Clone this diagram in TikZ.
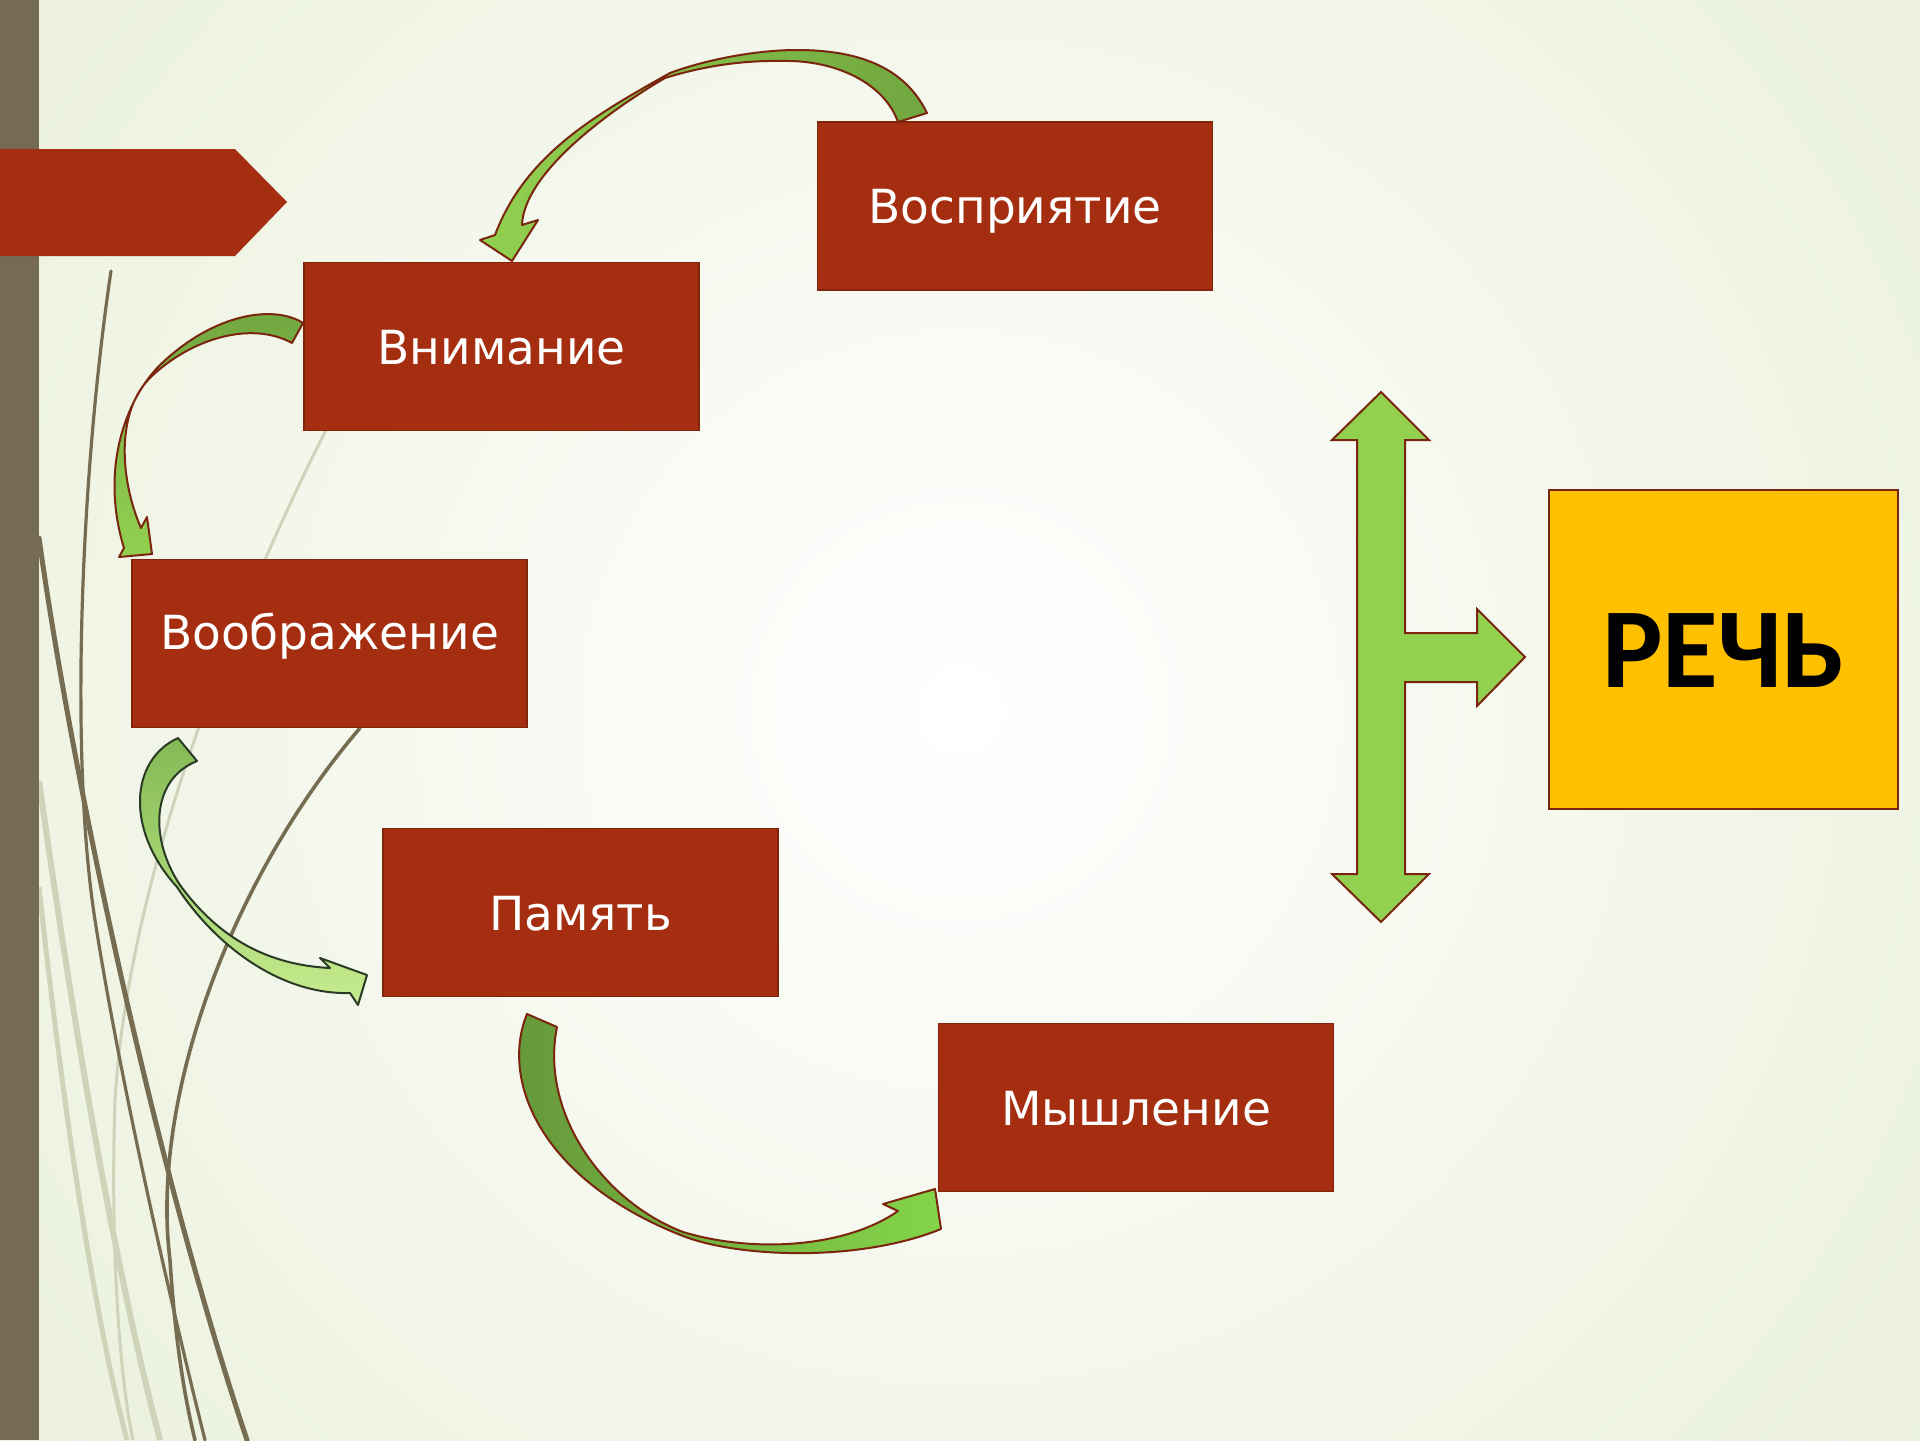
\documentclass[tikz,border=0pt]{standalone}
\usepackage{fontspec}
\setmainfont{DejaVu Sans}
\newfontfamily\rechfont{Carlito}
\definecolor{bgout}{RGB}{219,230,194}
\definecolor{barolive}{RGB}{116,107,82}
\definecolor{wisp}{RGB}{118,108,82}
\definecolor{wisplight}{RGB}{206,211,186}
\definecolor{boxred}{RGB}{165,46,16}
\definecolor{boxline}{RGB}{128,36,12}
\definecolor{arrline}{RGB}{122,38,14}
\definecolor{greenlight}{RGB}{146,208,80}
\definecolor{greendark}{RGB}{112,167,64}
\definecolor{greenpale}{RGB}{198,236,142}
\definecolor{greenmid}{RGB}{132,186,86}
\definecolor{darkedge}{RGB}{42,58,36}
\definecolor{rechyellow}{RGB}{255,192,0}
\begin{document}
\begin{tikzpicture}[x=0.5pt, y=-0.5pt,
		stage/.style={draw=boxline, line width=0.8pt, fill=boxred, text=white, minimum width=197.5pt, minimum height=84pt, inner sep=0pt, text height=17.5pt, text depth=0pt, font=\fontsize{23.5}{29}\selectfont},
		rechbox/.style={draw=arrline, line width=1.2pt, fill=rechyellow, minimum width=174.5pt, minimum height=159.5pt, inner sep=0pt, text height=38pt, text depth=0pt, font=\rechfont\bfseries\fontsize{57}{66}\selectfont},
		arrowline/.style={draw=arrline, line width=1pt, line join=round},
		wispline/.style={draw=wisp, line cap=round}]
		\useasboundingbox (0,0) rectangle (1920,1440);
		\begin{scope}
			\clip (0,0) rectangle (1920,1440);
			\shade[inner color=white, outer color=bgout] (960,710) circle (2100);
		\end{scope}
		\draw[wisplight, line width=3pt] (39,781) .. controls (70,1000) and (110,1250) .. (160,1440);
		\draw[wisplight, line width=2.5pt] (39,887) .. controls (60,1080) and (90,1300) .. (127,1440);
		\draw[wisplight, line width=1.5pt] (327,428) .. controls (260,560) and (130,850) .. (115,1100) .. controls (110,1250) and (120,1380) .. (133,1440);
		\draw[wispline, line width=1.6pt] (111,271) .. controls (80,480) and (70,760) .. (95,920) .. controls (120,1080) and (170,1300) .. (205,1440);
		\draw[wispline, line width=2.5pt] (39,538) .. controls (70,760) and (150,1150) .. (247,1440);
		\draw[wispline, line width=1.8pt] (360,728) .. controls (230,880) and (150,1100) .. (170,1260) .. controls (175,1340) and (185,1400) .. (195,1440);
		\fill[barolive] (0,0) rectangle (39,1440);
		\fill[boxred] (0,149) -- (235,149) -- (287,202) -- (235,256) -- (0,256) -- cycle;
		\node[stage] (vospr) at (1015,206) {Восприятие};
		\node[stage] (vnim) at (501.5,346.5) {Внимание};
		\node[stage, text depth=12pt] (voobr) at (329.5,643.5) {Воображение};
		\node[stage] (pamyat) at (580.5,912.5) {Память};
		\node[stage] (mysh) at (1136,1107.5) {Мышление};
		\node[rechbox] (rech) at (1723.5,649.5) {РЕЧЬ};
		\draw[arrowline, left color=greenlight, right color=greendark] (927,113) .. controls (905,68) and (860,50) .. (797,50) .. controls (755,50) and (705,60) .. (670,73) .. controls (595,115) and (525,155) .. (495,235) -- (480,240) -- (512,261) -- (538,220) -- (522,225) .. controls (524,175) and (602,115) .. (665,78) .. controls (710,64) and (750,60) .. (790,61) .. controls (840,62) and (885,85) .. (898,122) -- cycle;
		\draw[arrowline, top color=greendark, bottom color=greenlight] (303,323) .. controls (275,305) and (215,312) .. (160,365) .. controls (125,400) and (100,470) .. (124,548) -- (119,557) -- (152,554) -- (147,517) -- (141,528) .. controls (120,480) and (115,410) .. (152,376) .. controls (190,340) and (250,320) .. (292,343) -- cycle;
		\draw[arrowline, draw=darkedge, top color=greenmid, bottom color=greenpale] (178,738) .. controls (130,760) and (125,830) .. (177,887) .. controls (215,945) and (280,995) .. (350,993) -- (358,1005) -- (367,975) -- (320,958) -- (330,968) .. controls (270,965) and (220,940) .. (180,885) .. controls (150,840) and (150,780) .. (197,761) -- cycle;
		\draw[arrowline, left color=greendark!90!black, right color=greenlight!90!green] (527,1014) .. controls (500,1080) and (540,1180) .. (683,1236) .. controls (740,1258) and (860,1262) .. (941,1229) -- (935,1189) -- (883,1204) -- (898,1211) .. controls (850,1245) and (760,1255) .. (683,1232) .. controls (600,1200) and (540,1110) .. (557,1027) -- cycle;
		\draw[arrowline, line join=miter, fill=greenlight] (1381,392) -- (1429,440) -- (1405,440) -- (1405,633) -- (1477,633) -- (1477,609) -- (1525,657) -- (1477,706) -- (1477,682) -- (1405,682) -- (1405,874) -- (1429,874) -- (1381,922) -- (1332,874) -- (1357,874) -- (1357,440) -- (1332,440) -- cycle;
	\end{tikzpicture}
\end{document}
